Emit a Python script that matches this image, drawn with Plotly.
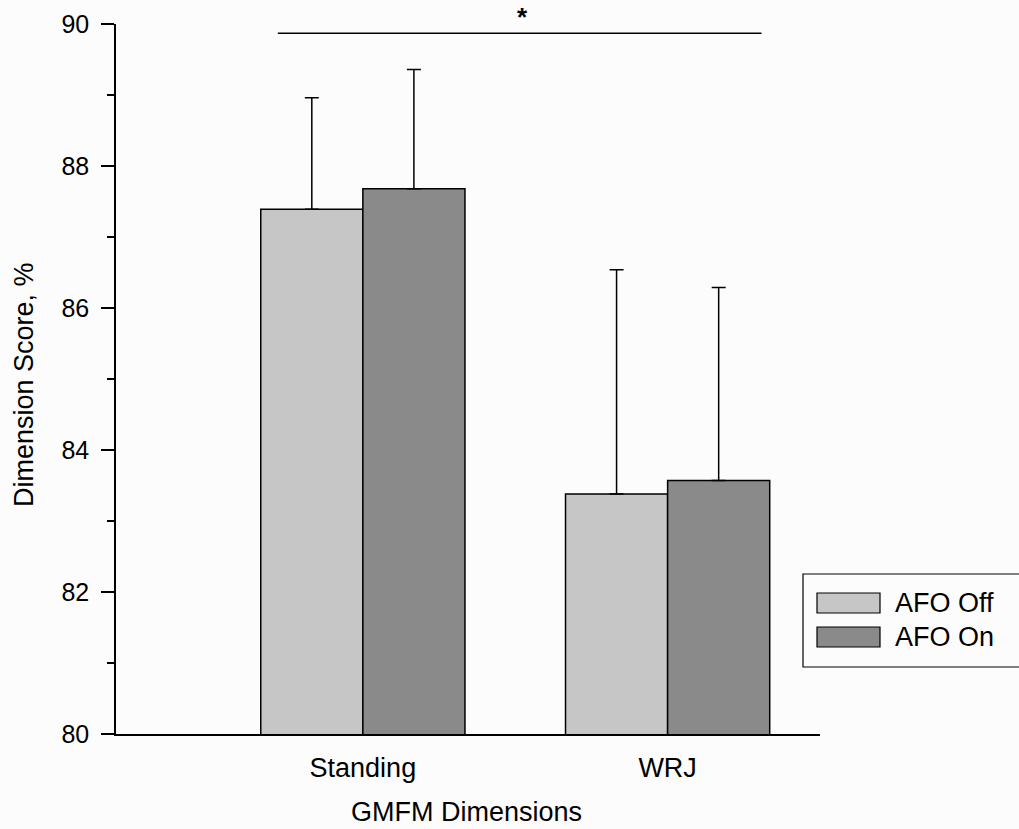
import plotly.graph_objects as go

categories = ["Standing", "WRJ"]
afo_off = [87.39, 83.38]
afo_off_err = [1.57, 3.16]
afo_on = [87.68, 83.57]
afo_on_err = [1.68, 2.72]
series_names = ["AFO Off", "AFO On"]
colors = ["#c6c6c6", "#8a8a8a"]
y_ticks = [80, 82, 84, 86, 88, 90]

FONT = "Liberation Sans, Arial, sans-serif"
FS = 27

fig = go.Figure()
for name, vals, errs, col in [(series_names[0], afo_off, afo_off_err, colors[0]),
                              (series_names[1], afo_on, afo_on_err, colors[1])]:
    fig.add_trace(go.Bar(
        x=categories, y=vals, name=name,
        marker=dict(color=col, line=dict(color="black", width=1.5)),
        error_y=dict(type="data", symmetric=False, array=errs,
                     arrayminus=[0] * len(errs), color="black",
                     thickness=1.5, width=7),
        showlegend=False,
    ))

fig.update_layout(
    width=1019, height=829,
    margin=dict(l=116, r=199, t=24, b=95),
    paper_bgcolor="#fcfcfc", plot_bgcolor="#fcfcfc",
    barmode="group", bargap=0.33, bargroupgap=0,
    font=dict(family=FONT, size=FS, color="black"),
)
fig.update_xaxes(
    type="category", range=[-0.81, 1.50], automargin=False,
    showline=True, linecolor="black", linewidth=1.5,
    ticks="", showgrid=False, zeroline=False,
    ticklabelstandoff=9,
    tickfont=dict(size=FS),
)
fig.update_yaxes(
    range=[80, 90], tickvals=y_ticks, automargin=False,
    showline=True, linecolor="black", linewidth=1.5,
    ticks="outside", ticklen=13, tickwidth=1.5, tickcolor="black",
    minor=dict(dtick=1, ticks="outside", ticklen=7, tickwidth=1.5, tickcolor="black", showgrid=False),
    showgrid=False, zeroline=False,
    ticklabelstandoff=7,
    tickfont=dict(size=25),
)

# axis titles
fig.add_annotation(text="GMFM Dimensions", xref="paper", yref="paper",
                   x=(466 - 116) / 704, y=0, yshift=-78, xanchor="center", yanchor="middle",
                   showarrow=False, font=dict(size=FS))
fig.add_annotation(text="Dimension Score, %", xref="paper", yref="paper",
                   x=0, xshift=-92, y=(734 - 385) / 710, textangle=-90,
                   xanchor="center", yanchor="middle",
                   showarrow=False, font=dict(size=FS))

# significance bar
fig.add_shape(type="line", xref="x", yref="y", x0=-0.279, x1=1.308,
              y0=89.87, y1=89.87, line=dict(color="black", width=1.5))
fig.add_annotation(text="<b>*</b>", xref="x", yref="y", x=0.525, y=89.87,
                   yshift=16, showarrow=False, font=dict(size=26))

# legend box (drawn manually to match wide swatches); right edge runs off the page
fig.add_shape(type="rect", xref="paper", yref="paper",
              x0=(803 - 116) / 704, x1=(1030 - 116) / 704,
              y0=(734 - 667) / 710, y1=(734 - 574) / 710,
              line=dict(color="black", width=1.2), fillcolor="rgba(0,0,0,0)")
for i, (name, col) in enumerate(zip(series_names, colors)):
    yc = 603 + i * 34
    fig.add_shape(type="rect", xref="paper", yref="paper",
                  x0=(817 - 116) / 704, x1=(880 - 116) / 704,
                  y0=(734 - (yc + 10)) / 710, y1=(734 - (yc - 10)) / 710,
                  line=dict(color="black", width=1.2), fillcolor=col)
    fig.add_annotation(text=name, xref="paper", yref="paper",
                       x=(893 - 116) / 704, y=(734 - yc) / 710,
                       xanchor="left", yanchor="middle", showarrow=False,
                       font=dict(size=FS))

fig.write_html("out.html")
